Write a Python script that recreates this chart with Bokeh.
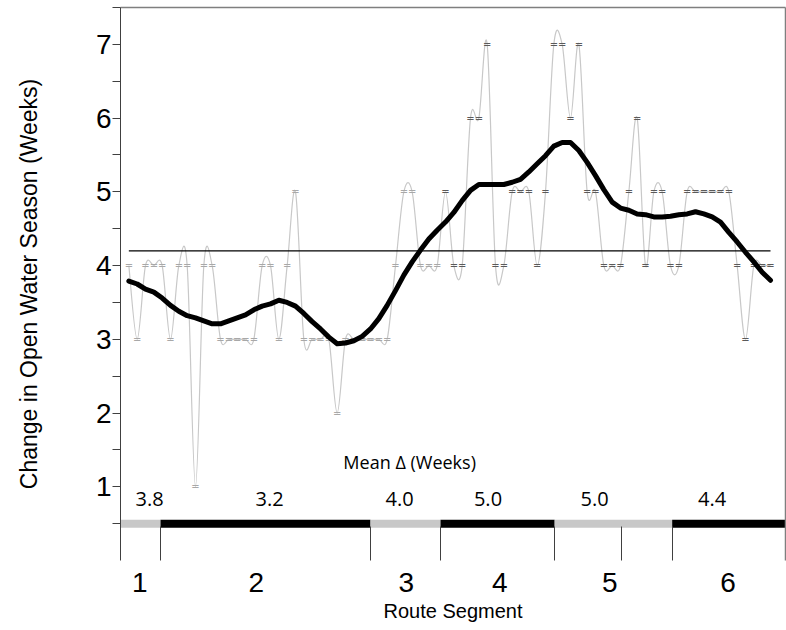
import numpy as np
from bokeh.plotting import figure
from bokeh.models import Range1d, LinearAxis, FixedTicker
from bokeh.core.properties import value
from bokeh.embed import file_html
from bokeh.resources import INLINE

# ---------------- data ----------------
point_x = list(range(1, 79))
weeks = [4, 3, 4, 4, 4, 3, 4, 4, 1, 4, 4, 3, 3, 3, 3, 3, 4, 4, 3, 4,
         5, 3, 3, 3, 3, 2, 3, 3, 3, 3, 3, 3, 4, 5, 5, 4, 4, 4, 5, 4,
         4, 6, 6, 7, 4, 4, 5, 5, 5, 4, 5, 7, 7, 6, 7, 5, 5, 4, 4, 4,
         5, 6, 4, 5, 5, 4, 4, 5, 5, 5, 5, 5, 5, 4, 3, 4, 4, 4]
smoothed = [3.79, 3.75, 3.68, 3.64, 3.56, 3.46, 3.38, 3.32, 3.29, 3.25,
            3.21, 3.21, 3.25, 3.29, 3.33, 3.40, 3.45, 3.48, 3.53, 3.50,
            3.45, 3.35, 3.24, 3.14, 3.03, 2.94, 2.95, 2.98, 3.04, 3.14,
            3.28, 3.46, 3.66, 3.87, 4.05, 4.21, 4.36, 4.48, 4.59, 4.72,
            4.88, 5.02, 5.10, 5.10, 5.10, 5.10, 5.13, 5.17, 5.27, 5.38,
            5.49, 5.62, 5.67, 5.67, 5.56, 5.40, 5.22, 5.03, 4.86, 4.78,
            4.75, 4.70, 4.69, 4.66, 4.66, 4.67, 4.69, 4.70, 4.73, 4.70,
            4.66, 4.59, 4.45, 4.32, 4.18, 4.05, 3.91, 3.80]
overall_mean = 4.2

seg_edges = [0, 4.8, 30.0, 38.4, 52.1, 66.2, 79.8]
seg_tick_x = [4.8, 30.0, 38.4, 52.1, 60.1, 66.2]
seg_names = ["1", "2", "3", "4", "5", "6"]
seg_label_x = [2.3, 16.3, 34.3, 45.5, 58.7, 72.9]
seg_means = ["3.8", "3.2", "4.0", "5.0", "5.0", "4.4"]
mean_label_x = [3.5, 17.9, 33.5, 44.1, 56.9, 71.0]
mean_label_y = 0.84
mean_title = "Mean \u0394 (Weeks)"
mean_title_x = 34.7
mean_title_y = 1.33
bar_y = 0.5

y_ticks = [1, 2, 3, 4, 5, 6, 7]
y_minor = [0.5, 1.5, 2.5, 3.5, 4.5, 5.5, 6.5, 7.5]

# ---------------- figure ----------------
p = figure(width=786, height=630,
           x_range=Range1d(0, 79.8), y_range=Range1d(0.0, 7.5),
           output_backend="svg", toolbar_location=None,
           x_axis_location=None, y_axis_location=None,
           min_border_left=120, min_border_right=1,
           min_border_top=7, min_border_bottom=70)
p.grid.visible = False
p.outline_line_color = None
p.background_fill_color = "white"
p.border_fill_color = "white"

# left axis
yax = LinearAxis(ticker=FixedTicker(ticks=y_ticks, minor_ticks=y_minor),
                 axis_label="Change in Open Water Season (Weeks)")
yax.axis_line_color = "#404040"
yax.major_tick_line_color = "#404040"
yax.minor_tick_line_color = "#404040"
yax.major_tick_in = 0
yax.major_tick_out = 8
yax.minor_tick_in = 0
yax.minor_tick_out = 8
yax.major_label_text_font = "Liberation Sans"
yax.major_label_text_font_size = "28px"
yax.major_label_text_color = "black"
yax.major_label_standoff = 1
yax.axis_label_text_font = "Liberation Sans"
yax.axis_label_text_font_size = "23px"
yax.axis_label_text_font_style = "normal"
yax.axis_label_text_color = "black"
yax.axis_label_standoff = 51
p.add_layout(yax, "left")

# bottom axis: boundary ticks (minor) and segment names (major)
xax = LinearAxis(ticker=FixedTicker(ticks=seg_label_x, minor_ticks=seg_tick_x),
                 axis_label="Route Segment",
                 major_label_overrides={lx: nm for lx, nm in zip(seg_label_x, seg_names)})
xax.axis_line_color = None
xax.major_tick_line_color = None
xax.minor_tick_line_color = "#404040"
xax.minor_tick_in = 34
xax.minor_tick_out = 0
xax.major_label_text_font = "Liberation Sans"
xax.major_label_text_font_size = "28px"
xax.major_label_text_color = "black"
xax.major_label_standoff = 6
xax.axis_label_text_font = "Liberation Sans"
xax.axis_label_text_font_size = "20px"
xax.axis_label_text_font_style = "normal"
xax.axis_label_text_color = "black"
xax.axis_label_standoff = 5
p.add_layout(xax, "below")

# top and right frame lines
for loc in ("above", "right"):
    ax = LinearAxis(ticker=FixedTicker(ticks=[]))
    ax.axis_line_color = "#7f7f7f"
    ax.axis_line_width = 1.5
    ax.major_tick_line_color = None
    ax.minor_tick_line_color = None
    ax.major_label_text_font_size = "0px"
    p.add_layout(ax, loc)

# segment bar
bar_colors = ["#c8c8c8" if k % 2 == 0 else "black" for k in range(len(seg_names))]
p.segment(x0=seg_edges[:-1], y0=[bar_y] * len(seg_names),
          x1=seg_edges[1:], y1=[bar_y] * len(seg_names),
          line_color=bar_colors, line_width=8, line_cap="butt")

# smoothed grey line through the raw weekly values (Bezier, like a smoothed line)
xs = np.array(point_x, dtype=float)
ys = np.array(weeks, dtype=float)
xpad = np.concatenate([[xs[0]], xs, [xs[-1]]])
ypad = np.concatenate([[ys[0]], ys, [ys[-1]]])
tx = (xpad[2:] - xpad[:-2]) / 6.0
ty = (ypad[2:] - ypad[:-2]) / 6.0
p.bezier(x0=xs[:-1], y0=ys[:-1], x1=xs[1:], y1=ys[1:],
         cx0=xs[:-1] + tx[:-1], cy0=ys[:-1] + ty[:-1],
         cx1=xs[1:] - tx[1:], cy1=ys[1:] - ty[1:],
         line_color="#c8c8c8", line_width=1.2)

# point markers
mark_colors = ["#a8a8a8" if xv < seg_edges[3] else "#5a5a5a" for xv in point_x]
p.text(x=point_x, y=weeks, text=["="] * len(point_x),
       text_align="center", text_baseline="middle",
       text_font=value("DejaVu Sans"), text_font_size="10px",
       text_color=mark_colors)

# overall mean line
p.line(x=[point_x[0], point_x[-1]], y=[overall_mean, overall_mean],
       line_color="black", line_width=1.3)

# moving-average line
p.line(x=point_x, y=smoothed, line_color="black", line_width=5,
       line_join="round", line_cap="round")

# segment means
p.text(x=mean_label_x, y=[mean_label_y] * len(seg_means), text=seg_means,
       text_align="center", text_baseline="middle",
       text_font=value("Open Sans"), text_font_size="20px", text_color="black")
p.text(x=[mean_title_x], y=[mean_title_y], text=[mean_title],
       text_align="center", text_baseline="middle",
       text_font=value("Open Sans"), text_font_size="18px", text_color="black")

open("out.html", "w").write(file_html(p, INLINE))
